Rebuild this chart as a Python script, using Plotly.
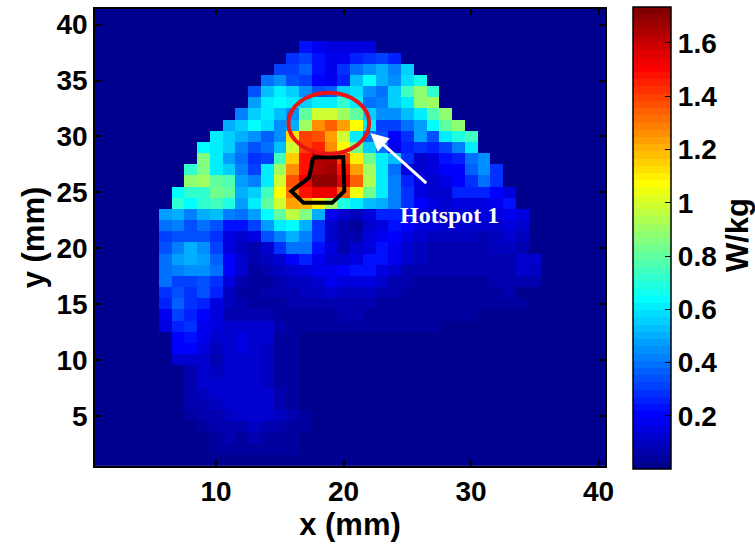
import plotly.graph_objects as go

# ---------------- data (SAR map, W/kg) ----------------
x_mm = list(range(1, 41))
y_mm = list(range(1, 42))

sar_y41 = [0]*40
sar_y40 = [0]*40
sar_y39 = [0]*40
sar_y38 = [0]*16 + [0.24, 0.17, 0.16, 0.15, 0.16, 0.14] + [0]*18
sar_y37 = [0]*15 + [0.29, 0.30, 0.22, 0.18, 0.18, 0.27, 0.29, 0.30, 0.25] + [0]*16
sar_y36 = [0]*14 + [0.32, 0.30, 0.37, 0.22, 0.18, 0.29, 0.39, 0.44, 0.50, 0.42, 0.55] + [0]*15
sar_y35 = [0]*13 + [0.38, 0.44, 0.35, 0.32, 0.20, 0.18, 0.27, 0.54, 0.64, 0.49, 0.44, 0.57, 0.67] + [0]*14
sar_y34 = [0]*12 + [0.34, 0.53, 0.60, 0.56, 0.44, 0.35, 0.37, 0.56, 0.57, 0.44, 0.39, 0.56, 0.75, 0.88, 0.72] + [0]*13
sar_y33 = [0]*12 + [0.47, 0.62, 0.64, 0.60, 0.55, 0.61, 0.60, 0.72, 0.61, 0.39, 0.42, 0.56, 0.60, 0.88, 0.92] + [0]*13
sar_y32 = [0]*11 + [0.42, 0.55, 0.60, 0.54, 0.46, 0.79, 1.00, 1.00, 0.90, 0.79, 0.55, 0.46, 0.44, 0.54, 0.62, 0.77, 0.88] + [0]*12
sar_y31 = [0]*10 + [0.51, 0.55, 0.64, 0.59, 0.44, 0.50, 0.90, 1.27, 1.35, 1.24, 1.07, 0.60, 0.30, 0.32, 0.38, 0.48, 0.64, 0.79, 0.88] + [0]*11
sar_y30 = [0]*9 + [0.62, 0.55, 0.50, 0.46, 0.37, 0.44, 1.12, 1.40, 1.38, 1.24, 1.00, 0.60, 0.40, 0.35, 0.19, 0.28, 0.48, 0.35, 0.60, 0.70, 0.74] + [0]*10
sar_y29 = [0]*8 + [0.64, 0.61, 0.55, 0.42, 0.33, 0.38, 0.52, 1.00, 1.40, 1.45, 1.25, 1.07, 0.83, 0.55, 0.38, 0.18, 0.25, 0.29, 0.26, 0.32, 0.43, 0.60] + [0]*10
sar_y28 = [0]*8 + [0.84, 0.60, 0.47, 0.40, 0.29, 0.32, 0.74, 1.15, 1.47, 1.65, 1.65, 1.40, 1.10, 0.82, 0.60, 0.52, 0.29, 0.12, 0.16, 0.24, 0.26, 0.39, 0.46] + [0]*9
sar_y27 = [0]*7 + [0.72, 0.84, 0.60, 0.55, 0.43, 0.30, 0.62, 0.90, 1.25, 1.48, 1.65, 1.67, 1.48, 1.22, 0.90, 0.62, 0.38, 0.14, 0.12, 0.14, 0.19, 0.20, 0.37, 0.46, 0.29] + [0]*8
sar_y26 = [0]*7 + [0.88, 0.92, 0.80, 0.77, 0.47, 0.42, 0.62, 1.00, 1.37, 1.52, 1.68, 1.70, 1.56, 1.35, 0.94, 0.62, 0.42, 0.27, 0.16, 0.11, 0.14, 0.19, 0.29, 0.40, 0.29] + [0]*8
sar_y25 = [0]*6 + [0.64, 0.72, 0.72, 0.82, 0.79, 0.50, 0.55, 0.74, 1.07, 1.30, 1.47, 1.52, 1.54, 1.33, 1.04, 0.82, 0.60, 0.43, 0.28, 0.16, 0.12, 0.11, 0.27, 0.27, 0.27, 0.20, 0.14] + [0]*7
sar_y24 = [0]*6 + [0.72, 0.64, 0.72, 0.75, 0.68, 0.47, 0.60, 0.79, 1.00, 1.23, 1.20, 1.10, 0.92, 0.68, 0.60, 0.54, 0.49, 0.43, 0.28, 0.20, 0.14, 0.12, 0.14, 0.14, 0.16, 0.18, 0.24] + [0]*7
sar_y23 = [0]*5 + [0.47, 0.51, 0.43, 0.49, 0.54, 0.42, 0.38, 0.47, 0.64, 0.79, 0.95, 0.84, 0.50, 0.18, 0.11, 0.09, 0.16, 0.26, 0.26, 0.22, 0.16, 0.12, 0.11, 0.11, 0.13, 0.14, 0.16, 0.18, 0.14] + [0]*6
sar_y22 = [0]*5 + [0.38, 0.43, 0.33, 0.38, 0.33, 0.24, 0.22, 0.32, 0.47, 0.60, 0.64, 0.51, 0.29, 0.11, 0.08, 0.05, 0.11, 0.16, 0.24, 0.19, 0.16, 0.14, 0.13, 0.12, 0.11, 0.11, 0.13, 0.14, 0.11] + [0]*6
sar_y21 = [0]*5 + [0.30, 0.35, 0.35, 0.35, 0.28, 0.16, 0.13, 0.16, 0.33, 0.41, 0.49, 0.43, 0.29, 0.13, 0.08, 0.06, 0.14, 0.18, 0.20, 0.16, 0.12, 0.10, 0.10, 0.10, 0.09, 0.08, 0.09, 0.11, 0.09] + [0]*6
sar_y20 = [0]*5 + [0.33, 0.43, 0.49, 0.46, 0.30, 0.16, 0.09, 0.07, 0.12, 0.28, 0.38, 0.38, 0.24, 0.14, 0.07, 0.11, 0.16, 0.24, 0.18, 0.12, 0.10, 0.08, 0.08, 0.08, 0.08, 0.08, 0.09, 0.09, 0.08] + [0]*6
sar_y19 = [0]*5 + [0.38, 0.47, 0.50, 0.47, 0.36, 0.20, 0.11, 0.07, 0.10, 0.13, 0.20, 0.26, 0.18, 0.13, 0.11, 0.14, 0.23, 0.23, 0.18, 0.11, 0.09, 0.07, 0.07, 0.06, 0.06, 0.07, 0.08, 0.08, 0.13, 0.11] + [0]*5
sar_y18 = [0]*5 + [0.38, 0.43, 0.46, 0.46, 0.38, 0.20, 0.11, 0.05, 0.07, 0.09, 0.11, 0.14, 0.18, 0.18, 0.20, 0.22, 0.22, 0.16, 0.11, 0.08, 0.07, 0.07, 0.06, 0.06, 0.06, 0.06, 0.06, 0.08, 0.11, 0.09] + [0]*5
sar_y17 = [0]*5 + [0.38, 0.32, 0.32, 0.35, 0.29, 0.14, 0.08, 0.04, 0.05, 0.06, 0.09, 0.09, 0.13, 0.18, 0.14, 0.16, 0.16, 0.13, 0.08, 0.06, 0.05, 0.05, 0.05, 0.05, 0.05, 0.04, 0.06, 0.06, 0.08, 0.06] + [0]*5
sar_y16 = [0]*5 + [0.29, 0.35, 0.29, 0.33, 0.26, 0.09, 0.05, 0.04, 0.06, 0.07, 0.08, 0.09, 0.10, 0.11, 0.10, 0.10, 0.09, 0.07, 0.06, 0.05, 0.05, 0.04, 0.04, 0.04, 0.04, 0.04, 0.04, 0.06] + [0]*7
sar_y15 = [0]*5 + [0.26, 0.36, 0.29, 0.26, 0.16, 0.09, 0.06, 0.04, 0.05, 0.05, 0.06, 0.07, 0.08, 0.08, 0.08, 0.07, 0.06, 0.05, 0.05, 0.04, 0.04, 0.03, 0.03, 0.03, 0.03, 0.03, 0.03, 0.04, 0.04] + [0]*6
sar_y14 = [0]*5 + [0.18, 0.30, 0.26, 0.20, 0.14, 0.08, 0.06, 0.06, 0.08, 0.05, 0.04, 0.05, 0.05, 0.05, 0.06, 0.06, 0.05, 0.05, 0.04, 0.03, 0.03, 0.03, 0.03, 0.03, 0.03] + [0]*10
sar_y13 = [0]*5 + [0.16, 0.26, 0.29, 0.18, 0.14, 0.11, 0.13, 0.11, 0.11, 0.07, 0.04, 0.03, 0.03, 0.03, 0.03, 0.03, 0.03, 0.04, 0.05, 0.05, 0.05, 0.03] + [0]*13
sar_y12 = [0]*5 + [0.02, 0.19, 0.24, 0.18, 0.11, 0.13, 0.14, 0.12, 0.11, 0.05, 0.03] + [0]*24
sar_y11 = [0]*6 + [0.20, 0.20, 0.14, 0.09, 0.12, 0.14, 0.11, 0.09, 0.05, 0.03] + [0]*24
sar_y10 = [0]*6 + [0.11, 0.13, 0.11, 0.08, 0.11, 0.13, 0.11, 0.09, 0.05, 0.03] + [0]*24
sar_y9 = [0]*7 + [0.08, 0.11, 0.09, 0.11, 0.11, 0.11, 0.10, 0.05, 0.03] + [0]*24
sar_y8 = [0]*7 + [0.08, 0.11, 0.11, 0.11, 0.11, 0.11, 0.10, 0.05, 0.03] + [0]*24
sar_y7 = [0]*7 + [0.08, 0.09, 0.11, 0.11, 0.13, 0.11, 0.11, 0.07, 0.04, 0.02] + [0]*23
sar_y6 = [0]*7 + [0.06, 0.08, 0.09, 0.11, 0.13, 0.13, 0.13, 0.08, 0.04, 0.02] + [0]*23
sar_y5 = [0]*7 + [0.04, 0.06, 0.08, 0.09, 0.11, 0.11, 0.11, 0.09, 0.06, 0.04] + [0]*23
sar_y4 = [0]*8 + [0.04, 0.06, 0.08, 0.08, 0.09, 0.08, 0.06, 0.04, 0.03] + [0]*23
sar_y3 = [0]*9 + [0.04, 0.06, 0.04, 0.08, 0.04, 0.04, 0.04] + [0]*24
sar_y2 = [0]*9 + [0.03, 0.04, 0.04, 0.04, 0.03, 0.03, 0.03] + [0]*24
sar_y1 = [0]*40

sar_rows = [sar_y1, sar_y2, sar_y3, sar_y4, sar_y5, sar_y6, sar_y7, sar_y8, sar_y9, sar_y10,
            sar_y11, sar_y12, sar_y13, sar_y14, sar_y15, sar_y16, sar_y17, sar_y18, sar_y19, sar_y20,
            sar_y21, sar_y22, sar_y23, sar_y24, sar_y25, sar_y26, sar_y27, sar_y28, sar_y29, sar_y30,
            sar_y31, sar_y32, sar_y33, sar_y34, sar_y35, sar_y36, sar_y37, sar_y38, sar_y39, sar_y40,
            sar_y41]
for i, r in enumerate(sar_rows):
    assert len(r) == 40, (i + 1, len(r))

c_min, c_max = 0.0, 1.733
cbar_tickvals = [0.2, 0.4, 0.6, 0.8, 1.0, 1.2, 1.4, 1.6]
cbar_ticktext = ["0.2", "0.4", "0.6", "0.8", "1", "1.2", "1.4", "1.6"]
x_tickvals = [10, 20, 30, 40]
y_tickvals = [5, 10, 15, 20, 25, 30, 35, 40]

# overlays (data coordinates)
ellipse_x = [15.67, 22.0]
ellipse_y = [28.45, 33.9]
outline_x = [17.6, 19.97, 20.05, 19.1, 16.85, 15.9, 17.3, 17.6]
outline_y = [28.1, 28.15, 25.1, 24.05, 24.05, 25.1, 26.3, 28.1]
arrow_head = [22.1, 30.3]
arrow_tail = [26.6, 25.7]
label_xy = [28.3, 23.0]
label_text = "Hotspot 1"

# ---------------- jet(64) colormap ----------------
def jet(i):
    if i <= 8:
        r, g, b = 0.0, 0.0, 0.5 + i / 16
    elif i <= 24:
        r, g, b = 0.0, (i - 8) / 16, 1.0
    elif i <= 40:
        r, g, b = (i - 24) / 16, 1.0, 1 - (i - 24) / 16
    elif i <= 56:
        r, g, b = 1.0, 1 - (i - 40) / 16, 0.0
    else:
        r, g, b = 1 - (i - 56) / 16, 0.0, 0.0
    return "rgb(%d,%d,%d)" % (round(r * 255), round(g * 255), round(b * 255))

colorscale = []
for i in range(64):
    c = jet(i + 1)
    colorscale.append([i / 64, c])
    colorscale.append([(i + 1) / 64, c])

FONT = "Liberation Sans, Arial, Helvetica, sans-serif"
tick_font = dict(family=FONT, size=28, color="black", weight="bold")
title_font = dict(family=FONT, size=31, color="black", weight="bold")

fig = go.Figure()
fig.add_trace(go.Heatmap(
    x=x_mm, y=y_mm, z=sar_rows,
    zmin=c_min, zmax=c_max, colorscale=colorscale, zsmooth=False,
    hoverinfo="skip",
    colorbar=dict(
        x=(633 - 95) / 510, xanchor="left", xpad=0,
        y=(466 - 7.3) / 457, yanchor="top", ypad=0,
        len=462, lenmode="pixels", thickness=38, thicknessmode="pixels",
        outlinecolor="black", outlinewidth=1.5,
        ticks="inside", ticklen=6, tickwidth=1.2, tickcolor="black",
        tickvals=cbar_tickvals, ticktext=cbar_ticktext, tickfont=tick_font,
    ),
))

fig.add_trace(go.Scatter(
    x=outline_x, y=outline_y, mode="lines",
    line=dict(color="black", width=4), hoverinfo="skip", showlegend=False,
))

fig.add_shape(type="circle", xref="x", yref="y",
              x0=ellipse_x[0], x1=ellipse_x[1], y0=ellipse_y[0], y1=ellipse_y[1],
              line=dict(color="rgb(235,20,20)", width=4))

fig.add_annotation(x=arrow_head[0], y=arrow_head[1], ax=arrow_tail[0], ay=arrow_tail[1],
                   xref="x", yref="y", axref="x", ayref="y", text="",
                   showarrow=True, arrowhead=2, arrowsize=1.2, arrowwidth=3, arrowcolor="white")

fig.add_annotation(x=label_xy[0], y=label_xy[1], xref="x", yref="y", text=label_text,
                   showarrow=False,
                   font=dict(family="Liberation Serif, Times New Roman, serif", size=24,
                             color="white", weight="bold"))

fig.add_annotation(x=(737 - 95) / 510, y=(466 - 235) / 457, xref="paper", yref="paper",
                   xanchor="center", yanchor="middle",
                   text="W/kg", textangle=-90, showarrow=False, font=title_font)

fig.update_layout(
    width=755, height=547,
    margin=dict(l=95, r=150, t=9, b=81, autoexpand=False),
    paper_bgcolor="white", plot_bgcolor="white",
    showlegend=False,
    xaxis=dict(range=[0.5, 40.5], tickvals=x_tickvals, ticks="inside", ticklen=6, tickwidth=1.5,
               tickcolor="black", showline=True, linecolor="black", linewidth=1.5, mirror="ticks",
               showgrid=False, zeroline=False, tickfont=tick_font,
               title=dict(text="x (mm)", font=title_font, standoff=1)),
    yaxis=dict(range=[0.5, 41.4], tickvals=y_tickvals, ticks="inside", ticklen=6, tickwidth=1.5,
               tickcolor="black", showline=True, linecolor="black", linewidth=1.5, mirror="ticks",
               showgrid=False, zeroline=False, tickfont=tick_font,
               title=dict(text="y (mm)", font=title_font, standoff=3)),
)

fig.write_html("out.html")
